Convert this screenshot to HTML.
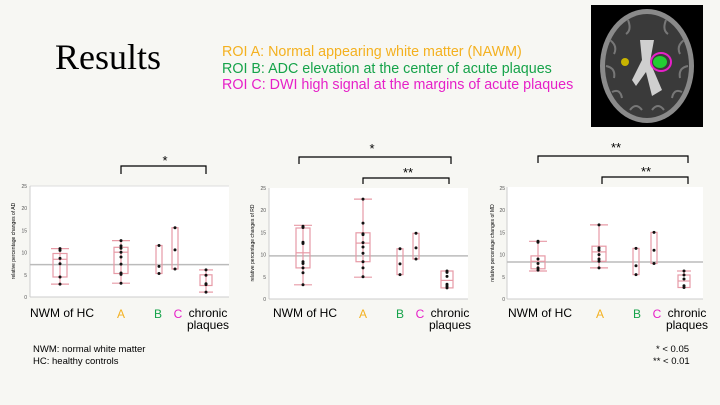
<!DOCTYPE html>
<html><head><meta charset="utf-8"><style>
html,body{margin:0;padding:0;background:#f7f7f3;}
svg{display:block;font-family:"Liberation Sans",Arial,sans-serif;}
.bx{fill:none;stroke:#e79aa6;stroke-width:1.2}
.wh{stroke:#e79aa6;stroke-width:1.2}
.pt{fill:#111}
.gl{stroke:#bbb;stroke-width:1.5}
.tk{font-size:5px;fill:#555}
.br{fill:none;stroke:#000;stroke-width:1.2}
.lab{font-size:12px}
</style></head><body>
<svg width="720" height="405" viewBox="0 0 720 405">
<rect width="720" height="405" fill="#f7f7f3"/>
<text x="55" y="69" font-family="Liberation Serif,serif" font-size="36">Results</text>
<text x="222" y="56" font-size="14.3" fill="#f4b120">ROI A: Normal appearing white matter (NAWM)</text>
<text x="222" y="73" font-size="14.3" fill="#16a34a">ROI B: ADC elevation at the center of acute plaques</text>
<text x="222" y="89" font-size="14.3" fill="#e620c8">ROI C: DWI high signal at the margins of acute plaques</text>
<!-- brain -->
<rect x="591" y="5" width="112" height="122" fill="#000"/>
<ellipse cx="647" cy="66" rx="47" ry="57" fill="#8a8a8a"/>
<ellipse cx="647" cy="66" rx="42" ry="52" fill="#3a3a3a"/>
<g stroke="#777" stroke-width="2" fill="none">
<path d="M610 40 q8 6 4 14 M606 66 q10 2 8 12 M612 92 q8 -4 10 6 M628 20 q4 10 -2 14 M666 20 q-4 10 2 14 M684 40 q-8 6 -4 14 M688 66 q-10 2 -8 12 M682 92 q-8 -4 -10 6 M630 110 q6 -8 12 0 M652 110 q6 -8 12 0"/>
</g>
<path d="M640 40 L654 40 L650 62 L662 90 L652 96 L646 72 L636 86 L632 80 L642 60Z" fill="#cfcfcf"/>
<circle cx="625" cy="62" r="4" fill="#c8b400"/>
<ellipse cx="661" cy="62" rx="10" ry="9" fill="none" stroke="#e620c8" stroke-width="2"/>
<ellipse cx="660" cy="62" rx="7" ry="6" fill="#22cc33"/>

<!-- Plot 1 -->
<rect x="30" y="186" width="199" height="111" fill="#fff"/>
<line x1="30" y1="186" x2="229" y2="186" stroke="#ddd"/>
<line x1="30" y1="186" x2="30" y2="297" stroke="#ccc"/>
<line x1="30" y1="297" x2="229" y2="297" stroke="#ccc"/>
<g class="tk" text-anchor="end"><text x="27" y="299">0</text><text x="27" y="276.8">5</text><text x="27" y="254.6">10</text><text x="27" y="232.4">15</text><text x="27" y="210.2">20</text><text x="27" y="188">25</text></g>
<text transform="translate(15,241) rotate(-90)" font-size="5" text-anchor="middle">relative percentage changes of AD</text>
<line class="gl" x1="30" y1="264.6" x2="229" y2="264.6"/>
<g>
<rect class="bx" x="53" y="253.5" width="14" height="23.5"/><line class="wh" x1="53" y1="259.3" x2="67" y2="259.3"/>
<line class="wh" x1="60" y1="248.6" x2="60" y2="284.1"/><line class="wh" x1="51" y1="248.6" x2="69" y2="248.6"/><line class="wh" x1="51" y1="284.1" x2="69" y2="284.1"/>
<g class="pt"><circle cx="60" cy="248.6" r="1.5"/><circle cx="60" cy="250.4" r="1.5"/><circle cx="60" cy="258.4" r="1.5"/><circle cx="60" cy="263.7" r="1.5"/><circle cx="60" cy="277" r="1.5"/><circle cx="60" cy="284.1" r="1.5"/></g>
<rect class="bx" x="114" y="247.3" width="14" height="26.2"/><line class="wh" x1="114" y1="252.2" x2="128" y2="252.2"/>
<line class="wh" x1="121" y1="240.6" x2="121" y2="283.2"/><line class="wh" x1="112" y1="240.6" x2="130" y2="240.6"/><line class="wh" x1="112" y1="283.2" x2="130" y2="283.2"/>
<g class="pt"><circle cx="121" cy="240.6" r="1.5"/><circle cx="121" cy="245.9" r="1.5"/><circle cx="121" cy="248.2" r="1.5"/><circle cx="121" cy="252.2" r="1.5"/><circle cx="121" cy="257" r="1.5"/><circle cx="121" cy="264.1" r="1.5"/><circle cx="121" cy="273" r="1.5"/><circle cx="121" cy="274.4" r="1.5"/><circle cx="121" cy="283.2" r="1.5"/></g>
<rect class="bx" x="156" y="245.5" width="6" height="28"/>
<g class="pt"><circle cx="159" cy="245.5" r="1.5"/><circle cx="159" cy="266.4" r="1.5"/><circle cx="159" cy="273.5" r="1.5"/></g>
<rect class="bx" x="172" y="227.7" width="6" height="41.3"/>
<g class="pt"><circle cx="175" cy="227.7" r="1.5"/><circle cx="175" cy="249.9" r="1.5"/><circle cx="175" cy="269" r="1.5"/></g>
<rect class="bx" x="200" y="274.8" width="12" height="10.7"/>
<line class="wh" x1="206" y1="269.9" x2="206" y2="292.1"/><line class="wh" x1="199" y1="269.9" x2="213" y2="269.9"/><line class="wh" x1="199" y1="292.1" x2="213" y2="292.1"/>
<g class="pt"><circle cx="206" cy="269.9" r="1.5"/><circle cx="206" cy="275.2" r="1.5"/><circle cx="206" cy="283.7" r="1.5"/><circle cx="206" cy="284.6" r="1.5"/><circle cx="206" cy="292.1" r="1.5"/></g>
</g>
<path class="br" d="M121 174 V166 H206 V174"/>
<text x="165" y="165" font-size="13" text-anchor="middle">*</text>
<g class="lab" text-anchor="middle"><text x="62" y="317">NWM of HC</text><text x="121" y="318" fill="#f4b120">A</text><text x="158" y="318" fill="#16a34a">B</text><text x="178" y="318" fill="#e620c8">C</text><text x="208" y="317">chronic</text><text x="208" y="329">plaques</text></g>

<!-- Plot 2 -->
<rect x="269" y="188" width="199" height="111" fill="#fff"/>
<line x1="269" y1="188" x2="269" y2="299" stroke="#ccc"/>
<line x1="269" y1="299" x2="468" y2="299" stroke="#ccc"/>
<g class="tk" text-anchor="end"><text x="266" y="301">0</text><text x="266" y="278.8">5</text><text x="266" y="256.6">10</text><text x="266" y="234.4">15</text><text x="266" y="212.2">20</text><text x="266" y="190">25</text></g>
<text transform="translate(254,243) rotate(-90)" font-size="5" text-anchor="middle">relative percentage changes of RD</text>
<line class="gl" x1="269" y1="255.9" x2="468" y2="255.9"/>
<rect class="bx" x="296" y="228" width="14" height="39.9"/><line class="wh" x1="296" y1="252.8" x2="310" y2="252.8"/>
<line class="wh" x1="303" y1="225.3" x2="303" y2="284.8"/><line class="wh" x1="294" y1="225.3" x2="312" y2="225.3"/><line class="wh" x1="294" y1="284.8" x2="312" y2="284.8"/>
<g class="pt"><circle cx="303" cy="226.2" r="1.5"/><circle cx="303" cy="227.5" r="1.5"/><circle cx="303" cy="242.2" r="1.5"/><circle cx="303" cy="243.5" r="1.5"/><circle cx="303" cy="261.7" r="1.5"/><circle cx="303" cy="263.5" r="1.5"/><circle cx="303" cy="267.9" r="1.5"/><circle cx="303" cy="272.8" r="1.5"/><circle cx="303" cy="284.8" r="1.5"/></g>
<rect class="bx" x="356" y="232.8" width="14" height="28.9"/><line class="wh" x1="356" y1="243.1" x2="370" y2="243.1"/>
<line class="wh" x1="363" y1="199.1" x2="363" y2="277.2"/><line class="wh" x1="354" y1="199.1" x2="372" y2="199.1"/><line class="wh" x1="354" y1="277.2" x2="372" y2="277.2"/>
<g class="pt"><circle cx="363" cy="199.1" r="1.5"/><circle cx="363" cy="223.1" r="1.5"/><circle cx="363" cy="233.7" r="1.5"/><circle cx="363" cy="234.6" r="1.5"/><circle cx="363" cy="242.6" r="1.5"/><circle cx="363" cy="247" r="1.5"/><circle cx="363" cy="253.3" r="1.5"/><circle cx="363" cy="261.7" r="1.5"/><circle cx="363" cy="267.9" r="1.5"/><circle cx="363" cy="276.8" r="1.5"/></g>
<rect class="bx" x="397" y="248.8" width="6" height="25.8"/>
<g class="pt"><circle cx="400" cy="248.8" r="1.5"/><circle cx="400" cy="263.9" r="1.5"/><circle cx="400" cy="274.6" r="1.5"/></g>
<rect class="bx" x="413" y="233.3" width="6" height="25.7"/>
<g class="pt"><circle cx="416" cy="233.3" r="1.5"/><circle cx="416" cy="247.9" r="1.5"/><circle cx="416" cy="259" r="1.5"/></g>
<rect class="bx" x="441" y="271" width="12" height="16.9"/><line class="wh" x1="441" y1="280.4" x2="453" y2="280.4"/>
<g class="pt"><circle cx="447" cy="271" r="1.5"/><circle cx="447" cy="272.4" r="1.5"/><circle cx="447" cy="276.4" r="1.5"/><circle cx="447" cy="284.3" r="1.5"/><circle cx="447" cy="286.1" r="1.5"/><circle cx="447" cy="287.9" r="1.5"/></g>
<path class="br" d="M299 164 V157 H451 V164"/>
<text x="372" y="153" font-size="13" text-anchor="middle">*</text>
<path class="br" d="M363 184 V178 H449 V184"/>
<text x="408" y="177" font-size="13" text-anchor="middle">**</text>
<g class="lab" text-anchor="middle"><text x="305" y="317">NWM of HC</text><text x="363" y="318" fill="#f4b120">A</text><text x="400" y="318" fill="#16a34a">B</text><text x="420" y="318" fill="#e620c8">C</text><text x="450" y="317">chronic</text><text x="450" y="329">plaques</text></g>

<!-- Plot 3 -->
<rect x="507" y="187" width="196" height="112" fill="#fff"/>
<line x1="507" y1="187" x2="507" y2="299" stroke="#ccc"/>
<line x1="507" y1="299" x2="703" y2="299" stroke="#ccc"/>
<g class="tk" text-anchor="end"><text x="505" y="301">0</text><text x="505" y="278.8">5</text><text x="505" y="256.6">10</text><text x="505" y="234.4">15</text><text x="505" y="212.2">20</text><text x="505" y="190">25</text></g>
<text transform="translate(494,243) rotate(-90)" font-size="5" text-anchor="middle">relative percentage changes of MD</text>
<line class="gl" x1="507" y1="262" x2="703" y2="262"/>
<rect class="bx" x="531" y="255.9" width="14" height="12.9"/><line class="wh" x1="531" y1="261.3" x2="545" y2="261.3"/>
<line class="wh" x1="538" y1="241.3" x2="538" y2="271"/><line class="wh" x1="529" y1="241.3" x2="547" y2="241.3"/><line class="wh" x1="529" y1="271" x2="547" y2="271"/>
<g class="pt"><circle cx="538" cy="241.3" r="1.5"/><circle cx="538" cy="242.2" r="1.5"/><circle cx="538" cy="259" r="1.5"/><circle cx="538" cy="263.5" r="1.5"/><circle cx="538" cy="267.9" r="1.5"/><circle cx="538" cy="270.1" r="1.5"/></g>
<rect class="bx" x="592" y="246.2" width="14" height="15.1"/><line class="wh" x1="592" y1="251.9" x2="606" y2="251.9"/>
<line class="wh" x1="599" y1="224.9" x2="599" y2="267.9"/><line class="wh" x1="590" y1="224.9" x2="608" y2="224.9"/><line class="wh" x1="590" y1="267.9" x2="608" y2="267.9"/>
<g class="pt"><circle cx="599" cy="224.9" r="1.5"/><circle cx="599" cy="247.9" r="1.5"/><circle cx="599" cy="250.2" r="1.5"/><circle cx="599" cy="254.6" r="1.5"/><circle cx="599" cy="259" r="1.5"/><circle cx="599" cy="261.3" r="1.5"/><circle cx="599" cy="267.9" r="1.5"/></g>
<rect class="bx" x="633" y="248.4" width="6" height="26.2"/>
<g class="pt"><circle cx="636" cy="248.4" r="1.5"/><circle cx="636" cy="265.7" r="1.5"/><circle cx="636" cy="274.6" r="1.5"/></g>
<rect class="bx" x="651" y="232.4" width="6" height="31.1"/>
<g class="pt"><circle cx="654" cy="232.4" r="1.5"/><circle cx="654" cy="250.2" r="1.5"/><circle cx="654" cy="263.5" r="1.5"/></g>
<rect class="bx" x="678" y="275" width="12" height="12.5"/><line class="wh" x1="678" y1="281" x2="690" y2="281"/>
<line class="wh" x1="684" y1="271" x2="684" y2="275"/><line class="wh" x1="677" y1="271" x2="691" y2="271"/>
<g class="pt"><circle cx="684" cy="271" r="1.5"/><circle cx="684" cy="275" r="1.5"/><circle cx="684" cy="279" r="1.5"/><circle cx="684" cy="285.7" r="1.5"/><circle cx="684" cy="287.5" r="1.5"/></g>
<path class="br" d="M538 163 V156 H688 V163"/>
<text x="616" y="152" font-size="13" text-anchor="middle">**</text>
<path class="br" d="M602 184 V177 H688 V184"/>
<text x="646" y="176" font-size="13" text-anchor="middle">**</text>
<g class="lab" text-anchor="middle"><text x="540" y="317">NWM of HC</text><text x="600" y="318" fill="#f4b120">A</text><text x="637" y="318" fill="#16a34a">B</text><text x="657" y="318" fill="#e620c8">C</text><text x="687" y="317">chronic</text><text x="687" y="329">plaques</text></g>

<g font-size="9.5"><text x="33" y="352">NWM: normal white matter</text><text x="33" y="364">HC: healthy controls</text>
<text x="656" y="352">* &lt; 0.05</text><text x="653" y="364">** &lt; 0.01</text></g>
</svg>
</body></html>
